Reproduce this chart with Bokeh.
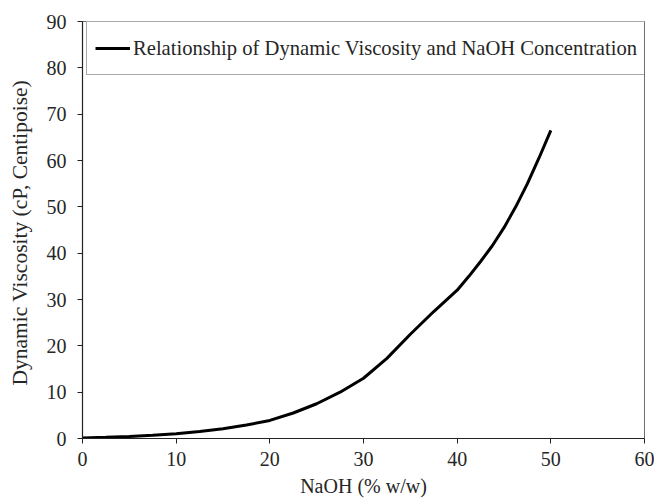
from bokeh.plotting import figure
from bokeh.models import Range1d, Legend, LegendItem, FixedTicker
from bokeh.embed import file_html
from bokeh.resources import INLINE

naoh = [0, 2.5, 5, 7.5, 10, 12.5, 15, 17.5, 20, 22.5, 25, 27.5, 30, 32.5, 35, 37.5,
        40, 41.25, 42.5, 43.75, 45, 46.25, 47.5, 48.75, 50]
viscosity = [0.1, 0.25, 0.45, 0.7, 1.0, 1.5, 2.1, 2.9, 3.9, 5.5, 7.5, 10.0, 13.0, 17.3, 22.5, 27.4,
             32.0, 35.0, 38.2, 41.6, 45.5, 50.0, 55.0, 60.6, 66.5]
x_ticks = [0, 10, 20, 30, 40, 50, 60]
y_ticks = [0, 10, 20, 30, 40, 50, 60, 70, 80, 90]
legend_label = "Relationship of Dynamic Viscosity and NaOH Concentration"
x_label = "NaOH (% w/w)"
y_label = "Dynamic Viscosity  (cP, Centipoise)"

FONT = "Liberation Serif"
TXT = "#262626"

p = figure(width=654, height=501, output_backend="svg", toolbar_location=None,
           x_range=Range1d(0, 60), y_range=Range1d(0, 90),
           min_border_left=82, min_border_right=10, min_border_top=21, min_border_bottom=63)
p.xgrid.visible = False
p.ygrid.visible = False
p.outline_line_color = "#6e6e6e"
p.outline_line_width = 1
p.background_fill_color = "white"
p.border_fill_color = "white"

for ax, ticks in ((p.xaxis[0], x_ticks), (p.yaxis[0], y_ticks)):
    ax.ticker = FixedTicker(ticks=ticks)
    ax.minor_tick_line_color = None
    ax.major_tick_in = 0
    ax.major_tick_out = 5
    ax.major_tick_line_color = "#222222"
    ax.axis_line_color = "#222222"
    ax.axis_line_width = 1.2
    ax.major_label_text_font = FONT
    ax.major_label_text_font_size = "20px"
    ax.major_label_text_color = TXT
    ax.axis_label_text_font = FONT
    ax.axis_label_text_font_size = "20px"
    ax.axis_label_text_font_style = "normal"
    ax.axis_label_text_color = TXT

p.xaxis.axis_label = x_label
p.yaxis.axis_label = y_label
p.yaxis.axis_label_text_font_size = "21.5px"
p.xaxis.major_label_standoff = 8
p.yaxis.major_label_standoff = 11
p.xaxis.axis_label_standoff = 6
p.yaxis.axis_label_standoff = 12

r = p.line(naoh, viscosity, line_color="black", line_width=3)

legend = Legend(items=[LegendItem(label=legend_label, renderers=[r])],
                location=(4, 363), margin=0, padding=8,
                glyph_width=35, label_standoff=3,
                label_text_font=FONT, label_text_font_size="20.6px", label_text_color=TXT,
                label_height=36, glyph_height=36,
                border_line_color="#555555", border_line_width=1.5,
                background_fill_alpha=1.0)
p.add_layout(legend)

open("out.html", "w").write(file_html(p, INLINE))
